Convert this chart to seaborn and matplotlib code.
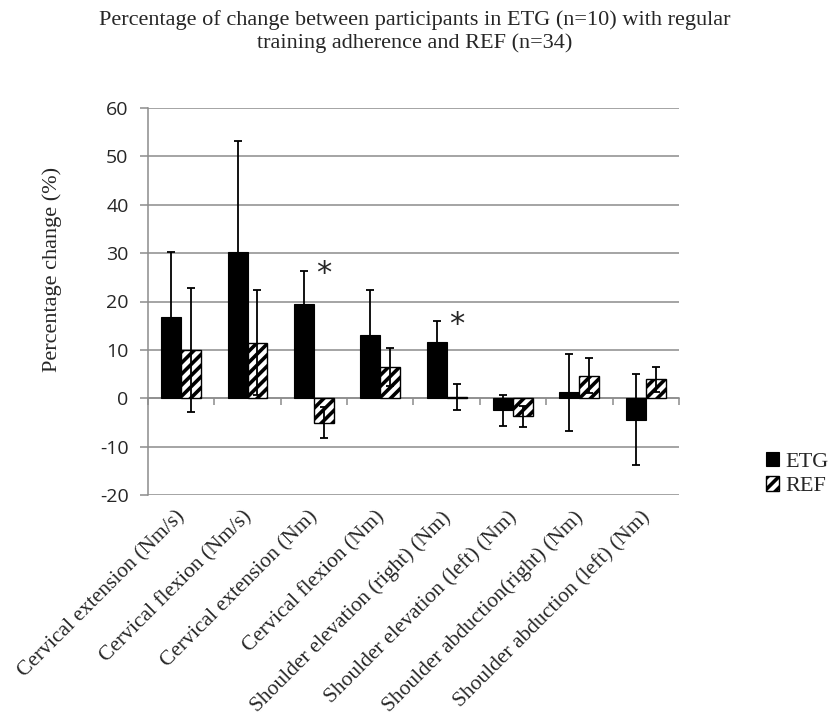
import matplotlib
matplotlib.use("Agg")
import matplotlib.pyplot as plt
import matplotlib.transforms as mtransforms
import numpy as np
import pandas as pd
import seaborn as sns

categories = [
    "Cervical extension (Nm/s)",
    "Cervical flexion (Nm/s)",
    "Cervical extension (Nm)",
    "Cervical flexion (Nm)",
    "Shoulder elevation (right) (Nm)",
    "Shoulder elevation (left) (Nm)",
    "Shoulder abduction(right) (Nm)",
    "Shoulder abduction (left) (Nm)",
]
etg_mean = [16.8, 30.3, 19.4, 13.0, 11.7, -2.5, 1.2, -4.4]
etg_sd = [13.4, 22.9, 7.0, 9.3, 4.2, 3.2, 8.0, 9.4]
ref_mean = [10.0, 11.5, -5.1, 6.5, 0.2, -3.7, 4.7, 3.9]
ref_sd = [12.8, 10.9, 3.2, 3.9, 2.7, 2.2, 3.7, 2.6]
significant = [False, False, True, False, True, False, False, False]

SERIF = "Liberation Serif"
SANS = "Open Sans"

df = pd.DataFrame({
    "measure": categories * 2,
    "group": ["ETG"] * len(categories) + ["REF"] * len(categories),
    "change": etg_mean + ref_mean,
    "sd": etg_sd + ref_sd,
})

sns.set_style("white")
plt.rcParams["font.family"] = [SERIF, "DejaVu Serif"]
plt.rcParams["hatch.linewidth"] = 2.6
plt.rcParams["axes.unicode_minus"] = False

fig = plt.figure(figsize=(8.29, 7.2), dpi=100)
ax = fig.add_axes([0.1785, 0.3125, 0.6405, 0.5375])

sns.barplot(data=df, x="measure", y="change", hue="group",
            palette={"ETG": "black", "REF": "white"}, width=0.6,
            errorbar=None, legend=False, ax=ax, zorder=3)

etg_bars, ref_bars = ax.containers[0], ax.containers[1]
for p in etg_bars:
    p.set_facecolor("black")
    p.set_edgecolor("black")
    p.set_linewidth(0.8)
for p in ref_bars:
    p.set_facecolor("white")
    p.set_edgecolor("black")
    p.set_linewidth(1.0)
    p.set_hatch("///")

for bars, sub in zip([etg_bars, ref_bars], ["ETG", "REF"]):
    d = df[df["group"] == sub]
    xs = [p.get_x() + p.get_width() / 2 for p in bars]
    ax.errorbar(xs, d["change"], yerr=d["sd"], fmt="none", ecolor="black",
                elinewidth=1.3, capsize=3, capthick=1.3, zorder=4)

# significance markers next to ETG bars
for i, sig in enumerate(significant):
    if sig:
        p = ref_bars[i]
        ax.text(p.get_x() + p.get_width() / 2, etg_mean[i] + etg_sd[i] - 0.6, "*",
                ha="center", va="center", fontsize=22, family="DejaVu Sans")

ax.set_ylim(-20, 60)
ax.set_xlim(-0.5, len(categories) - 0.5)
ax.set_yticks(np.arange(-20, 61, 10))
ax.yaxis.grid(True, color="#8c8c8c", linewidth=1.1)
ax.set_axisbelow(True)

for s in ["right", "bottom"]:
    ax.spines[s].set_visible(False)
ax.spines["left"].set_color("#8c8c8c")
ax.spines["left"].set_linewidth(1.1)
ax.spines["top"].set_position(("data", 0))
ax.spines["top"].set_color("#8c8c8c")
ax.spines["top"].set_linewidth(1.1)

ax.set_xticks(np.arange(-0.5, len(categories), 1.0), minor=True)
ax.tick_params(axis="x", which="major", length=0, pad=9)
ax.tick_params(axis="x", which="minor", top=True, bottom=False, direction="in",
               length=5, width=1.1, color="#8c8c8c")
ax.tick_params(axis="y", length=6, width=1.1, color="#8c8c8c", left=True, pad=8)

ax.set_xticks(range(len(categories)))
ax.set_xticklabels(categories, rotation=45, ha="right", rotation_mode="anchor",
                   fontsize=15.5, family=SERIF)
shift = mtransforms.ScaledTranslation(-4 / 72, 0, fig.dpi_scale_trans)
for lbl in ax.get_xticklabels():
    lbl.set_transform(lbl.get_transform() + shift)
for lbl in ax.get_yticklabels():
    lbl.set_family(SANS)
    lbl.set_fontsize(14)

ax.set_xlabel("")
ax.set_ylabel("Percentage change (%)", fontsize=16, family=SERIF)
ax.yaxis.set_label_coords(-0.162, 0.584)

fig.suptitle("Percentage of change between participants in ETG (n=10) with regular\n"
             "training adherence and REF (n=34)",
             x=0.5, y=0.986, fontsize=16, family=SERIF, linespacing=1.25)

fig.legend([etg_bars, ref_bars], ["ETG", "REF"], loc="upper left",
           bbox_to_anchor=(0.924, 0.372), frameon=False, fontsize=16,
           handlelength=0.6, handleheight=0.6, handletextpad=0.25,
           labelspacing=0.2, borderaxespad=0, borderpad=0)

fig.savefig("out.png", dpi=100)
